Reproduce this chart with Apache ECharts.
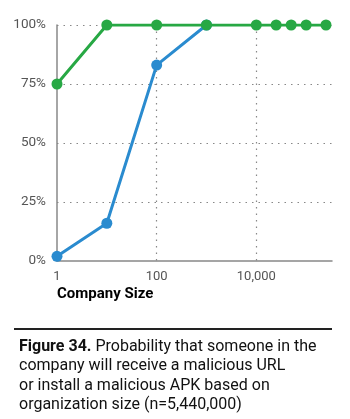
<!DOCTYPE html>
<html>
<head>
<meta charset="utf-8">
<script src="https://cdn.jsdelivr.net/npm/echarts@6/dist/echarts.min.js"></script>
<style>
  html, body { margin: 0; padding: 0; background: #fff; }
  #chart { width: 350px; height: 419px; }
</style>
</head>
<body>
<div id="chart"></div>
<script>
// company size (log scale) and probability in %
var urlSizes = [1, 10, 100, 1000, 10000, 25000, 50000, 100000, 250000];
var urlProb = [75, 100, 100, 100, 100, 100, 100, 100, 100];
var apkSizes = [1, 10, 100, 1000];
var apkProb = [2, 16, 83, 100];
var yTicks = [0, 25, 50, 75, 100];

function pairs(xs, ys) {
  return xs.map(function (x, i) { return [x, ys[i]]; });
}

var chart = echarts.init(document.getElementById('chart'));
var font = 'Roboto, "Liberation Sans", sans-serif';

chart.setOption({
  animation: false,
  grid: { left: 57, right: 18, top: 25, bottom: 158 },
  title: {
    left: 14,
    top: 332,
    text: '{b|Figure 34.} Probability that someone in the\ncompany will receive a malicious URL\nor install a malicious APK based on\norganization size (n=5,440,000)',
    textStyle: {
      fontFamily: font,
      fontSize: 16,
      fontWeight: 'normal',
      color: '#111',
      lineHeight: 19.5,
      rich: {
        b: { fontFamily: font, fontSize: 16, fontWeight: 'bold', color: '#111', lineHeight: 19.5 }
      }
    }
  },
  graphic: [{
    type: 'line',
    shape: { x1: 14, y1: 329, x2: 332, y2: 329 },
    style: { stroke: '#222', lineWidth: 2 }
  }],
  xAxis: {
    type: 'log',
    logBase: 100,
    min: 1,
    max: 330000,
    name: 'Company Size',
    nameLocation: 'start',
    nameGap: 0,
    nameTextStyle: {
      fontFamily: font, fontSize: 15, fontWeight: 'bold', color: '#000',
      align: 'left', verticalAlign: 'top', padding: [26, 0, 0, 0]
    },
    axisLine: { lineStyle: { color: '#888', width: 1.5 } },
    axisTick: { show: false },
    axisLabel: {
      fontFamily: font, fontSize: 13, color: '#555', margin: 9,
      showMaxLabel: false,
      formatter: function (v) { return v.toLocaleString('en-US'); }
    },
    splitLine: {
      show: true, showMinLine: false, showMaxLine: false,
      lineStyle: { color: '#888', type: [1.5, 5], width: 1.2 }
    }
  },
  yAxis: {
    type: 'value',
    min: 0,
    max: 100,
    interval: 25,
    axisLine: { show: true, lineStyle: { color: '#888', width: 1.5 } },
    axisTick: { show: false },
    axisLabel: {
      fontFamily: font, fontSize: 13.5, color: '#555', margin: 11,
      formatter: function (v) { return yTicks.indexOf(v) >= 0 ? v + '%' : ''; }
    },
    splitLine: {
      show: true, showMinLine: false,
      lineStyle: { color: '#888', type: [1.5, 5], width: 1.2 }
    }
  },
  series: [
    {
      name: 'APK',
      type: 'line',
      data: pairs(apkSizes, apkProb),
      symbol: 'circle',
      symbolSize: 11,
      lineStyle: { color: '#2a8bcf', width: 3 },
      itemStyle: { color: '#2a8bcf' },
      z: 2
    },
    {
      name: 'URL',
      type: 'line',
      data: pairs(urlSizes, urlProb),
      symbol: 'circle',
      symbolSize: 11,
      lineStyle: { color: '#27a844', width: 3 },
      itemStyle: { color: '#27a844' },
      z: 3
    }
  ]
});
</script>
</body>
</html>
